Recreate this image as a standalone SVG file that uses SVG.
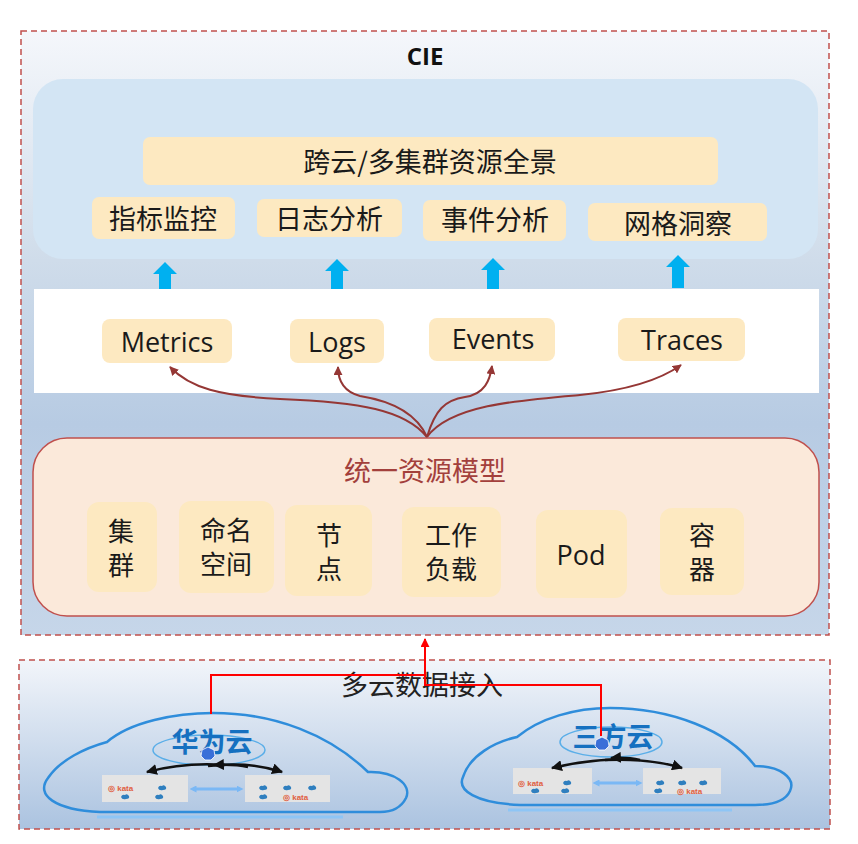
<svg xmlns="http://www.w3.org/2000/svg" width="858" height="844" viewBox="0 0 858 844">
<style>
.cjk{font-family:"Noto Sans CJK SC","Noto Sans",sans-serif;}
.lat{font-family:"Open Sans","Noto Sans CJK SC",sans-serif;}
.t27{font-size:27px;fill:#1a1a1a;text-anchor:middle;}
.t26{font-size:26px;fill:#1a1a1a;text-anchor:middle;}
.tag{fill:#fde9c1;}
.dash{fill:none;stroke:#c0504d;stroke-width:1.5;stroke-dasharray:6 4;}
.curve{fill:none;stroke:#953735;stroke-width:2;}
.upArrow{fill:#00b0f0;}
.cloud{fill:none;stroke:#2f8ddb;stroke-width:2.5;}
.grey{fill:#e4e4e4;}
.blk{fill:none;stroke:#111;stroke-width:2.5;}
.dock{fill:#2f7fbf;}
.kata{font-family:"Liberation Sans",sans-serif;font-size:8px;fill:#e06040;font-weight:bold;}
.cloudname{font-family:"Noto Sans CJK SC",sans-serif;font-size:27px;font-weight:bold;fill:#1570c0;text-anchor:middle;}
.red{fill:none;stroke:#ff0000;stroke-width:2;}
</style>
<defs>
<linearGradient id="gTop" x1="0" y1="0" x2="0" y2="1">
<stop offset="0" stop-color="#f5f7fb"/>
<stop offset="0.38" stop-color="#cfdcea"/>
<stop offset="0.65" stop-color="#b7cbe3"/>
<stop offset="1" stop-color="#c6d6e9"/>
</linearGradient>
<linearGradient id="gBot" x1="0" y1="0" x2="0" y2="1">
<stop offset="0" stop-color="#f2f5fa"/>
<stop offset="1" stop-color="#abc3e0"/>
</linearGradient>
<marker id="mRed" viewBox="0 0 10 10" refX="9" refY="5" markerWidth="9" markerHeight="9" orient="auto" markerUnits="userSpaceOnUse">
<path d="M0 0 L10 5 L0 10 Z" fill="#953735"/>
</marker>
<marker id="mRed2" viewBox="0 0 10 10" refX="9" refY="5" markerWidth="9" markerHeight="9" orient="auto" markerUnits="userSpaceOnUse">
<path d="M0 0 L10 5 L0 10 Z" fill="#ff0000"/>
</marker>
<marker id="mBlk" viewBox="0 0 10 10" refX="9" refY="5" markerWidth="11" markerHeight="11" orient="auto" markerUnits="userSpaceOnUse">
<path d="M0 0 L10 5 L0 10 Z" fill="#111"/>
</marker>
<marker id="mLb" viewBox="0 0 10 10" refX="5" refY="5" markerWidth="7" markerHeight="7" orient="auto-start-reverse" markerUnits="userSpaceOnUse">
<path d="M0 0 L10 5 L0 10 Z" fill="#7ab8f5"/>
</marker>
<path id="dk" d="M-4 0 Q-3 -3 0 -2 Q2 -4 4 -1 Q5 2 1 2 Q-3 3 -4 0 Z"/>
</defs>
<rect x="0" y="0" width="858" height="844" fill="#ffffff"/>

<g id="cie">
<rect x="21" y="31" width="808" height="604" fill="url(#gTop)"/>
<rect x="21" y="31" width="808" height="604" class="dash"/>
<text x="425" y="65" class="lat" font-size="24" font-weight="bold" text-anchor="middle" fill="#111">CIE</text>
</g>

<g id="app-layer">
<rect x="33" y="79" width="785" height="180" rx="30" fill="#d3e5f4"/>
<g id="panorama"><rect x="143" y="137" width="575" height="48" rx="7" class="tag"/><text x="430" y="172" class="cjk t27">跨云/多集群资源全景</text></g>
<g id="metrics-mon"><rect x="92" y="197" width="143" height="42" rx="7" class="tag"/><text x="163" y="229" class="cjk t27">指标监控</text></g>
<g id="log-ana"><rect x="257" y="199" width="145" height="38" rx="7" class="tag"/><text x="329" y="229" class="cjk t27">日志分析</text></g>
<g id="event-ana"><rect x="423" y="200" width="143" height="41" rx="7" class="tag"/><text x="495" y="230" class="cjk t27">事件分析</text></g>
<g id="mesh"><rect x="588" y="203" width="179" height="38" rx="7" class="tag"/><text x="678" y="234" class="cjk t27">网格洞察</text></g>
</g>

<g id="up-arrows">
<polygon class="upArrow" points="165,262 177,274 171,274 171,293 159,293 159,274 153,274"/>
<polygon class="upArrow" points="337,259 349,271 343,271 343,290 331,290 331,271 325,271"/>
<polygon class="upArrow" points="493,258 505,270 499,270 499,290 487,290 487,270 481,270"/>
<polygon class="upArrow" points="678,255 690,267 684,267 684,288 672,288 672,267 666,267"/>
</g>

<g id="data-layer">
<rect x="34" y="289" width="785" height="104" fill="#ffffff"/>
<g id="m"><rect x="102" y="319" width="130" height="44" rx="8" class="tag"/><text x="167" y="352" class="lat t27">Metrics</text></g>
<g id="l"><rect x="290" y="319" width="94" height="44" rx="8" class="tag"/><text x="337" y="352" class="lat t27">Logs</text></g>
<g id="e"><rect x="429" y="318" width="126" height="43" rx="8" class="tag"/><text x="493" y="349" class="lat t27">Events</text></g>
<g id="t"><rect x="618" y="318" width="127" height="43" rx="8" class="tag"/><text x="682" y="350" class="lat t27">Traces</text></g>
</g>

<g id="model">
<rect x="33" y="438" width="786" height="178" rx="34" fill="#fbe9da" stroke="#c0504d" stroke-width="1.5"/>
<text x="425" y="481" class="cjk" font-size="27" text-anchor="middle" fill="#a3403c">统一资源模型</text>
<g id="cluster"><rect x="87" y="502" width="70" height="90" rx="12" class="tag"/><text x="121" y="541" class="cjk t26">集</text><text x="121" y="575" class="cjk t26">群</text></g>
<g id="ns"><rect x="179" y="501" width="95" height="92" rx="12" class="tag"/><text x="226" y="540" class="cjk t26">命名</text><text x="226" y="574" class="cjk t26">空间</text></g>
<g id="node"><rect x="285" y="505" width="87" height="91" rx="12" class="tag"/><text x="329" y="545" class="cjk t26">节</text><text x="329" y="579" class="cjk t26">点</text></g>
<g id="workload"><rect x="402" y="507" width="99" height="90" rx="12" class="tag"/><text x="451" y="545" class="cjk t26">工作</text><text x="451" y="579" class="cjk t26">负载</text></g>
<g id="pod"><rect x="536" y="510" width="91" height="88" rx="12" class="tag"/><text x="581" y="565" class="lat t27">Pod</text></g>
<g id="container"><rect x="660" y="508" width="84" height="87" rx="12" class="tag"/><text x="702" y="545" class="cjk t26">容</text><text x="702" y="579" class="cjk t26">器</text></g>
</g>

<g id="ingest">
<rect x="19" y="660" width="811" height="169" fill="url(#gBot)"/>
<rect x="19" y="660" width="811" height="169" class="dash"/>
<text x="422" y="695" class="cjk" font-size="27" text-anchor="middle" fill="#222">多云数据接入</text>
</g>

<g id="huawei-cloud">
<path class="cloud" d="M100 812 C55 810 35 795 48 778 C60 760 85 748 107 742 C130 722 175 713 213 713 C275 713 330 735 368 772 C395 771 412 785 406 798 C401 808 392 812 380 812 Z"/>
<line x1="97" y1="817" x2="343" y2="817" stroke="#8ec5f5" stroke-width="3"/>
<ellipse cx="209" cy="750" rx="56" ry="15" fill="none" stroke="#5aaee8" stroke-width="1.5"/>
<text x="212" y="752" class="cloudname">华为云</text>
<polygon points="208,747 214,750 215,756 211,760 205,760 201,756 202,750" fill="#3a6fd8" stroke="#fff" stroke-width="0.8"/>
<rect x="102" y="775" width="86" height="27" class="grey"/>
<rect x="245" y="775" width="85" height="27" class="grey"/>
<text x="108" y="791" class="kata">&#x25CE; kata</text>
<use href="#dk" x="162" y="788" class="dock"/><use href="#dk" x="125" y="797" class="dock"/><use href="#dk" x="159" y="797" class="dock"/>
<use href="#dk" x="263" y="788" class="dock"/><use href="#dk" x="287" y="788" class="dock"/><use href="#dk" x="312" y="788" class="dock"/><use href="#dk" x="263" y="797" class="dock"/>
<text x="283" y="800" class="kata">&#x25CE; kata</text>
<line x1="193" y1="789" x2="240" y2="789" stroke="#7ab8f5" stroke-width="3" marker-start="url(#mLb)" marker-end="url(#mLb)"/>
<path class="blk" d="M225 765 Q185 762 147 772" marker-end="url(#mBlk)"/>
<path class="blk" d="M208 766 Q250 761 282 772" marker-end="url(#mBlk)"/>
<path class="blk" d="M248 767 Q235 764 214 765" marker-end="url(#mBlk)"/>
</g>

<g id="third-cloud">
<path class="cloud" d="M520 805 C475 803 457 790 463 777 C470 755 495 742 517 737 C540 718 575 708 610 708 C670 708 728 730 755 766 C780 766 796 778 790 791 C785 802 772 805 755 805 Z"/>
<line x1="508" y1="810" x2="732" y2="810" stroke="#8ec5f5" stroke-width="3"/>
<ellipse cx="611" cy="742" rx="51" ry="15" fill="none" stroke="#5aaee8" stroke-width="1.5"/>
<text x="613" y="747" class="cloudname">三方云</text>
<polygon points="602,737 608,740 609,746 605,750 599,750 595,746 596,740" fill="#3a6fd8" stroke="#fff" stroke-width="0.8"/>
<rect x="513" y="768" width="79" height="26" class="grey"/>
<rect x="643" y="768" width="78" height="26" class="grey"/>
<text x="518" y="786" class="kata">&#x25CE; kata</text>
<use href="#dk" x="567" y="783" class="dock"/><use href="#dk" x="535" y="791" class="dock"/><use href="#dk" x="565" y="791" class="dock"/>
<use href="#dk" x="660" y="783" class="dock"/><use href="#dk" x="682" y="783" class="dock"/><use href="#dk" x="703" y="783" class="dock"/><use href="#dk" x="658" y="791" class="dock"/>
<text x="677" y="794" class="kata">&#x25CE; kata</text>
<line x1="596" y1="783" x2="639" y2="783" stroke="#7ab8f5" stroke-width="3" marker-start="url(#mLb)" marker-end="url(#mLb)"/>
<path class="blk" d="M622 759 Q585 760 552 768" marker-end="url(#mBlk)"/>
<path class="blk" d="M605 760 Q650 758 682 768" marker-end="url(#mBlk)"/>
<path class="blk" d="M640 760 Q628 757 611 758" marker-end="url(#mBlk)"/>
</g>

<g id="connectors">
<path class="curve" d="M427 437 C405 410 360 402 280 399 C220 396 190 388 170 367" marker-end="url(#mRed)"/>
<path class="curve" d="M427 437 C415 410 385 400 360 396 C345 392 338 382 338 367" marker-end="url(#mRed)"/>
<path class="curve" d="M427 437 C435 410 445 400 465 397 C485 394 490 380 492 366" marker-end="url(#mRed)"/>
<path class="curve" d="M427 437 C450 405 520 400 580 395 C630 390 660 380 681 365" marker-end="url(#mRed)"/>
<path class="red" d="M211 714 V675 H425"/>
<path class="red" d="M601 736 V685 H425 V639" marker-end="url(#mRed2)"/>
</g>
</svg>
